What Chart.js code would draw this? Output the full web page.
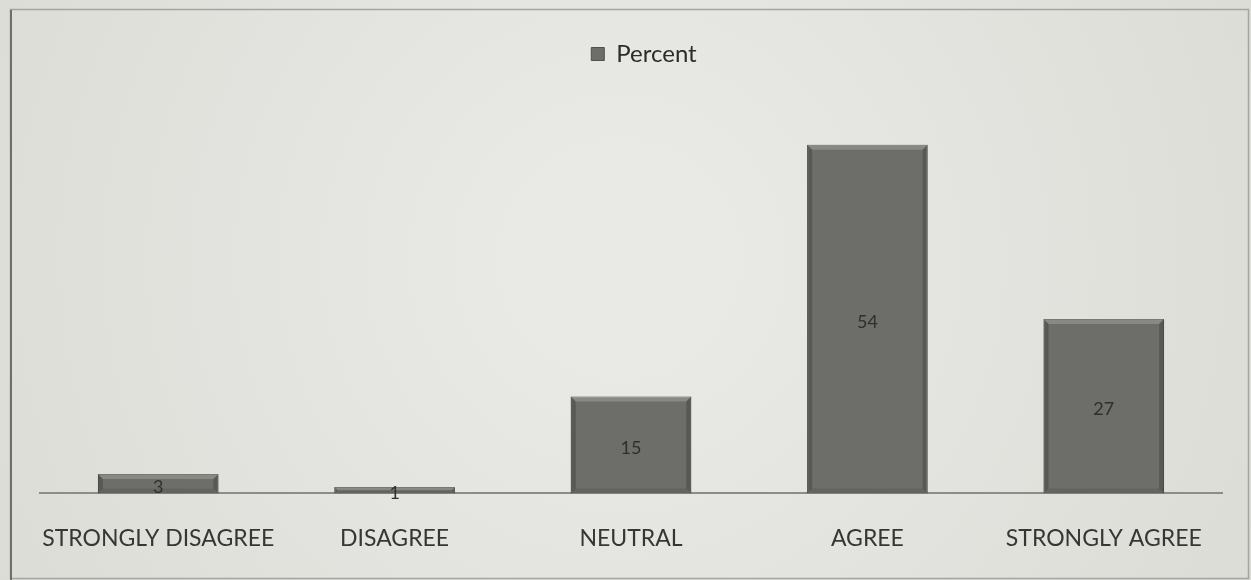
<!DOCTYPE html>
<html>
<head>
<meta charset="utf-8">
<script src="https://cdn.jsdelivr.net/npm/chart.js@4.4.1/dist/chart.umd.min.js"></script>
<style>
  html, body { margin: 0; padding: 0; background: #e4e4e0; }
  #wrap { width: 1251px; height: 580px; position: relative; }
</style>
</head>
<body>
<div id="wrap"><canvas id="chart"></canvas></div>
<script>
const categories = ['STRONGLY DISAGREE', 'DISAGREE', 'NEUTRAL', 'AGREE', 'STRONGLY AGREE'];
const percentValues = [3, 1, 15, 54, 27];
const seriesName = 'Percent';

// paper background + frame
const paperPlugin = {
    id: 'paper',
    beforeDraw(chart) {
        const ctx = chart.ctx;
        ctx.save();
        const g = ctx.createRadialGradient(620, 260, 100, 620, 260, 800);
        g.addColorStop(0, '#e9e9e5');
        g.addColorStop(1, '#dadad5');
        ctx.fillStyle = g;
        ctx.fillRect(0, 0, chart.width, chart.height);
        ctx.strokeStyle = '#a4a4a0';
        ctx.lineWidth = 1.5;
        ctx.strokeRect(10.5, 9.5, chart.width - 13, chart.height - 11);
        ctx.strokeStyle = '#6e6e6a';
        ctx.lineWidth = 2;
        ctx.beginPath();
        ctx.moveTo(11, 10);
        ctx.lineTo(11, chart.height);
        ctx.stroke();
        ctx.restore();
    }
};

// extra room under the legend, and nudge it right like the original
const legendGap = {
    id: 'legendGap',
    beforeInit(chart) {
        const fit = chart.legend.fit;
        chart.legend.fit = function() {
            fit.bind(chart.legend)();
            this.height += 30;
        };
    },
    afterLayout(chart) {
        chart.legend.left += 26;
    }
};

// bevel edges + value labels on bars
const bevelPlugin = {
    id: 'bevel',
    afterDatasetsDraw(chart) {
        const ctx = chart.ctx;
        const meta = chart.getDatasetMeta(0);
        ctx.save();
        meta.data.forEach((bar, i) => {
            const left = bar.x - bar.width / 2;
            const right = bar.x + bar.width / 2;
            const top = bar.y;
            const bottom = bar.base;
            const h = bottom - top;
            const b = Math.min(5, h / 2);
            ctx.fillStyle = 'rgba(170,170,165,0.45)';
            ctx.beginPath();
            ctx.moveTo(left, top);
            ctx.lineTo(right, top);
            ctx.lineTo(right - b, top + b);
            ctx.lineTo(left + b, top + b);
            ctx.closePath();
            ctx.fill();
            ctx.fillStyle = 'rgba(40,40,38,0.3)';
            ctx.beginPath();
            ctx.moveTo(left, top);
            ctx.lineTo(left + b, top + b);
            ctx.lineTo(left + b, bottom - b);
            ctx.lineTo(left, bottom);
            ctx.closePath();
            ctx.fill();
            ctx.beginPath();
            ctx.moveTo(right, top);
            ctx.lineTo(right - b, top + b);
            ctx.lineTo(right - b, bottom - b);
            ctx.lineTo(right, bottom);
            ctx.closePath();
            ctx.fill();
            ctx.fillStyle = 'rgba(60,60,58,0.2)';
            ctx.beginPath();
            ctx.moveTo(left, bottom);
            ctx.lineTo(right, bottom);
            ctx.lineTo(right - b, bottom - b);
            ctx.lineTo(left + b, bottom - b);
            ctx.closePath();
            ctx.fill();

            ctx.fillStyle = '#2e2e2c';
            ctx.font = '18px Lato, "Open Sans", sans-serif';
            ctx.textAlign = 'center';
            ctx.textBaseline = 'middle';
            ctx.fillText(String(percentValues[i]), bar.x, (top + bottom) / 2 + 3);
        });
        ctx.restore();
    }
};

new Chart(document.getElementById('chart'), {
    type: 'bar',
    data: {
        labels: categories,
        datasets: [{
            label: seriesName,
            data: percentValues,
            backgroundColor: '#6d6e6a',
            borderColor: '#50504d',
            borderWidth: 1,
            categoryPercentage: 1,
            barPercentage: 0.51
        }]
    },
    options: {
        responsive: true,
        maintainAspectRatio: false,
        animation: false,
        layout: { padding: { left: 40, right: 29, top: 34, bottom: -3 } },
        plugins: {
            legend: {
                position: 'top',
                labels: {
                    font: { family: 'Lato, "Open Sans", sans-serif', size: 24 },
                    color: '#2c2c2a',
                    boxWidth: 13,
                    boxHeight: 13,
                    padding: 8
                }
            },
            tooltip: { enabled: false }
        },
        scales: {
            x: {
                grid: { display: false, drawTicks: false },
                border: { display: true, color: '#8c8c88', width: 2 },
                ticks: {
                    color: '#363634',
                    font: { family: 'Lato, "Open Sans", sans-serif', size: 23 },
                    padding: 31,
                    maxRotation: 0,
                    autoSkip: false
                }
            },
            y: {
                display: false,
                min: 0,
                max: 60
            }
        }
    },
    plugins: [paperPlugin, legendGap, bevelPlugin]
});
</script>
</body>
</html>
